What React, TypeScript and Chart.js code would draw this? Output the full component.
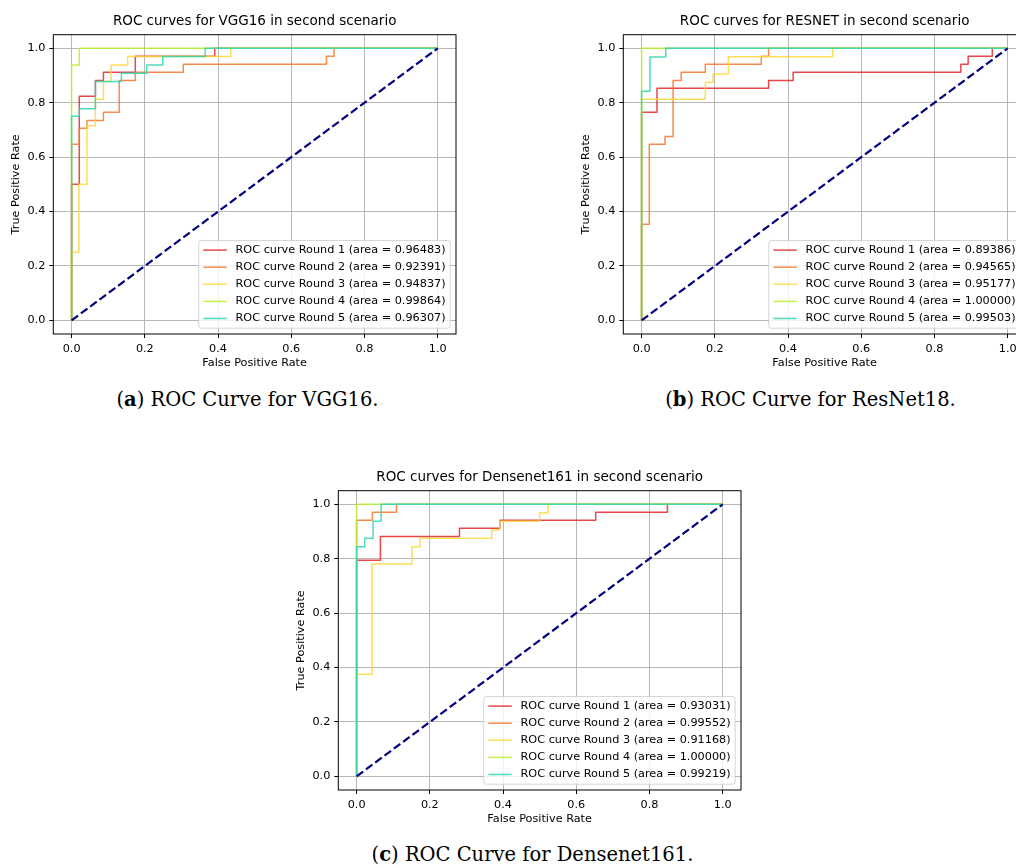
import React, { useEffect, useRef } from 'react';
import { Chart, registerables } from 'chart.js';

Chart.register(...registerables);

const FONT = '"DejaVu Sans", sans-serif';
const TICKS = [0, 0.2, 0.4, 0.6, 0.8, 1.0];
const ROUND_NAMES = ['Round 1', 'Round 2', 'Round 3', 'Round 4', 'Round 5'];
const ROUND_COLORS = [
  'rgba(230,40,40,0.85)',
  'rgba(245,120,45,0.85)',
  'rgba(253,215,60,0.85)',
  'rgba(185,240,45,0.85)',
  'rgba(45,215,175,0.85)',
];
const DIAG_X = [0, 1];
const DIAG_Y = [0, 1];

// ---- VGG16 ----
const VGG_TITLE = 'ROC curves for VGG16 in second scenario';
const VGG_CAPTION = 'ROC Curve for VGG16.';
const VGG_AUC = ['0.96483', '0.92391', '0.94837', '0.99864', '0.96307'];
const VGG_R1_FPR = [0, 0, 0.021, 0.021, 0.065, 0.065, 0.087, 0.087, 0.174, 0.174, 0.391, 0.391, 1];
const VGG_R1_TPR = [0, 0.5, 0.5, 0.824, 0.824, 0.882, 0.882, 0.912, 0.912, 0.971, 0.971, 1, 1];
const VGG_R2_FPR = [0, 0, 0.021, 0.021, 0.042, 0.042, 0.087, 0.087, 0.13, 0.13, 0.174, 0.174, 0.305, 0.305, 0.696, 0.696, 0.717, 0.717, 1];
const VGG_R2_TPR = [0, 0.647, 0.647, 0.706, 0.706, 0.735, 0.735, 0.765, 0.765, 0.882, 0.882, 0.912, 0.912, 0.941, 0.941, 0.971, 0.971, 1, 1];
const VGG_R3_FPR = [0, 0, 0.02, 0.02, 0.042, 0.042, 0.065, 0.065, 0.087, 0.087, 0.108, 0.108, 0.153, 0.153, 0.435, 0.435, 1];
const VGG_R3_TPR = [0, 0.25, 0.25, 0.5, 0.5, 0.715, 0.715, 0.813, 0.813, 0.878, 0.878, 0.939, 0.939, 0.97, 0.97, 1, 1];
const VGG_R4_FPR = [0, 0, 0.021, 0.021, 1];
const VGG_R4_TPR = [0, 0.939, 0.939, 1, 1];
const VGG_R5_FPR = [0, 0, 0.021, 0.021, 0.065, 0.065, 0.136, 0.136, 0.205, 0.205, 0.249, 0.249, 0.365, 0.365, 1];
const VGG_R5_TPR = [0, 0.75, 0.75, 0.778, 0.778, 0.878, 0.878, 0.908, 0.908, 0.939, 0.939, 0.97, 0.97, 1, 1];

// ---- RESNET ----
const RES_TITLE = 'ROC curves for RESNET in second scenario';
const RES_CAPTION = 'ROC Curve for ResNet18.';
const RES_AUC = ['0.89386', '0.94565', '0.95177', '1.00000', '0.99503'];
const RES_R1_FPR = [0, 0, 0.042, 0.042, 0.347, 0.347, 0.414, 0.414, 0.872, 0.872, 0.892, 0.892, 0.958, 0.958, 1];
const RES_R1_TPR = [0, 0.765, 0.765, 0.853, 0.853, 0.882, 0.882, 0.912, 0.912, 0.941, 0.941, 0.971, 0.971, 1, 1];
const RES_R2_FPR = [0, 0, 0.021, 0.021, 0.064, 0.064, 0.086, 0.086, 0.108, 0.108, 0.174, 0.174, 0.327, 0.327, 0.347, 0.347, 1];
const RES_R2_TPR = [0, 0.353, 0.353, 0.647, 0.647, 0.676, 0.676, 0.882, 0.882, 0.912, 0.912, 0.941, 0.941, 0.971, 0.971, 1, 1];
const RES_R3_FPR = [0, 0, 0.174, 0.174, 0.195, 0.195, 0.237, 0.237, 0.522, 0.522, 1];
const RES_R3_TPR = [0, 0.813, 0.813, 0.875, 0.875, 0.906, 0.906, 0.969, 0.969, 1, 1];
const RES_R4_FPR = [0, 0, 1];
const RES_R4_TPR = [0, 1, 1];
const RES_R5_FPR = [0, 0, 0.023, 0.023, 0.066, 0.066, 1];
const RES_R5_TPR = [0, 0.842, 0.842, 0.968, 0.968, 1, 1];

// ---- DENSENET161 ----
const DEN_TITLE = 'ROC curves for Densenet161 in second scenario';
const DEN_CAPTION = 'ROC Curve for Densenet161.';
const DEN_AUC = ['0.93031', '0.99552', '0.91168', '1.00000', '0.99219'];
const DEN_R1_FPR = [0, 0, 0.065, 0.065, 0.281, 0.281, 0.391, 0.391, 0.653, 0.653, 0.849, 0.849, 1];
const DEN_R1_TPR = [0, 0.794, 0.794, 0.882, 0.882, 0.912, 0.912, 0.941, 0.941, 0.971, 0.971, 1, 1];
const DEN_R2_FPR = [0, 0, 0.043, 0.043, 0.109, 0.109, 1];
const DEN_R2_TPR = [0, 0.941, 0.941, 0.971, 0.971, 1, 1];
const DEN_R3_FPR = [0, 0, 0.042, 0.042, 0.151, 0.151, 0.173, 0.173, 0.369, 0.369, 0.391, 0.391, 0.5, 0.5, 0.523, 0.523, 1];
const DEN_R3_TPR = [0, 0.375, 0.375, 0.781, 0.781, 0.844, 0.844, 0.875, 0.875, 0.906, 0.906, 0.938, 0.938, 0.969, 0.969, 1, 1];
const DEN_R4_FPR = [0, 0, 1];
const DEN_R4_TPR = [0, 1, 1];
const DEN_R5_FPR = [0, 0, 0.022, 0.022, 0.045, 0.045, 0.067, 0.067, 1];
const DEN_R5_TPR = [0, 0.844, 0.844, 0.875, 0.875, 0.938, 0.938, 1, 1];

type PanelDef = {
  title: string;
  fpr: number[][];
  tpr: number[][];
  auc: string[];
  left: number;
  top: number;
};

const PANELS: PanelDef[] = [
  { title: VGG_TITLE, fpr: [VGG_R1_FPR, VGG_R2_FPR, VGG_R3_FPR, VGG_R4_FPR, VGG_R5_FPR], tpr: [VGG_R1_TPR, VGG_R2_TPR, VGG_R3_TPR, VGG_R4_TPR, VGG_R5_TPR], auc: VGG_AUC, left: 0, top: 0 },
  { title: RES_TITLE, fpr: [RES_R1_FPR, RES_R2_FPR, RES_R3_FPR, RES_R4_FPR, RES_R5_FPR], tpr: [RES_R1_TPR, RES_R2_TPR, RES_R3_TPR, RES_R4_TPR, RES_R5_TPR], auc: RES_AUC, left: 570, top: 0 },
  { title: DEN_TITLE, fpr: [DEN_R1_FPR, DEN_R2_FPR, DEN_R3_FPR, DEN_R4_FPR, DEN_R5_FPR], tpr: [DEN_R1_TPR, DEN_R2_TPR, DEN_R3_TPR, DEN_R4_TPR, DEN_R5_TPR], auc: DEN_AUC, left: 285, top: 456 },
];

const CANVAS_W = 470;
const CANVAS_H = 380;
const SMALL = 11.25;

function Panel({ def }: { def: PanelDef }) {
  const ref = useRef<HTMLCanvasElement | null>(null);
  useEffect(() => {
    const canvas = ref.current;
    if (!canvas) return;
    const labels = def.auc.map((a, i) => `ROC curve ${ROUND_NAMES[i]} (area = ${a})`);

    const datasets: any[] = def.fpr.map((xs, i) => ({
      label: labels[i],
      data: xs.map((x, j) => ({ x, y: def.tpr[i][j] })),
      showLine: true,
      borderColor: ROUND_COLORS[i],
      backgroundColor: ROUND_COLORS[i],
      borderWidth: 1.5,
      pointRadius: 0,
      pointHoverRadius: 0,
      fill: false,
      tension: 0,
      borderJoinStyle: 'round',
      borderCapStyle: 'butt',
      order: 5 - i,
    }));
    datasets.push({
      label: 'diag',
      data: DIAG_X.map((x, j) => ({ x, y: DIAG_Y[j] })),
      showLine: true,
      borderColor: '#000080',
      backgroundColor: '#000080',
      borderWidth: 2.2,
      borderDash: [8.1, 3.5],
      pointRadius: 0,
      pointHoverRadius: 0,
      fill: false,
      tension: 0,
      order: 0,
    });

    const framePlugin = {
      id: 'frame',
      afterDatasetsDraw(chart: any) {
        const { ctx, chartArea } = chart;
        ctx.save();
        ctx.strokeStyle = '#000';
        ctx.lineWidth = 1;
        ctx.strokeRect(chartArea.left, chartArea.top, chartArea.right - chartArea.left, chartArea.bottom - chartArea.top);
        ctx.restore();
      },
    };

    const legendPlugin = {
      id: 'rocLegend',
      afterDraw(chart: any) {
        const { ctx, chartArea } = chart;
        ctx.save();
        ctx.font = `${SMALL}px ${FONT}`;
        const tw = Math.max(...labels.map((t) => ctx.measureText(t).width));
        const w = 36.8 + tw + 4.6;
        const h = 87.7;
        const x = chartArea.right - 5.8 - w;
        const y = chartArea.bottom - 5.8 - h;
        const r = 2.5;
        ctx.beginPath();
        ctx.moveTo(x + r, y);
        ctx.lineTo(x + w - r, y);
        ctx.arcTo(x + w, y, x + w, y + r, r);
        ctx.lineTo(x + w, y + h - r);
        ctx.arcTo(x + w, y + h, x + w - r, y + h, r);
        ctx.lineTo(x + r, y + h);
        ctx.arcTo(x, y + h, x, y + h - r, r);
        ctx.lineTo(x, y + r);
        ctx.arcTo(x, y, x + r, y, r);
        ctx.closePath();
        ctx.fillStyle = 'rgba(255,255,255,0.8)';
        ctx.fill();
        ctx.strokeStyle = 'rgba(204,204,204,0.8)';
        ctx.lineWidth = 1;
        ctx.stroke();
        labels.forEach((t, i) => {
          const cy = y + 9.6 + i * 17.1;
          ctx.beginPath();
          ctx.moveTo(x + 4.6, cy);
          ctx.lineTo(x + 28, cy);
          ctx.strokeStyle = ROUND_COLORS[i];
          ctx.lineWidth = 1.5;
          ctx.stroke();
          ctx.fillStyle = '#000';
          ctx.textBaseline = 'middle';
          ctx.textAlign = 'left';
          ctx.fillText(t, x + 36.8, cy);
        });
        ctx.restore();
      },
    };

    const setTicks = (scale: any) => {
      scale.ticks = TICKS.map((v) => ({ value: v }));
    };
    const tickOpts = {
      color: '#000',
      font: { family: FONT, size: SMALL },
      padding: 4,
      callback: (v: any) => Number(v).toFixed(1),
      autoSkip: false,
      maxRotation: 0,
      minRotation: 0,
    };
    const gridOpts = {
      color: '#b0b0b0',
      lineWidth: 0.9,
      drawTicks: true,
      tickLength: 4,
      tickColor: '#000',
      tickWidth: 1,
    };

    const chart = new Chart(canvas, {
      type: 'scatter',
      data: { datasets },
      options: {
        responsive: false,
        maintainAspectRatio: false,
        animation: false,
        devicePixelRatio: 1,
        events: [],
        layout: { padding: { left: 0, right: 14, top: 0, bottom: 0 } },
        plugins: {
          legend: { display: false },
          tooltip: { enabled: false },
          title: {
            display: true,
            text: def.title,
            fullSize: false,
            color: '#000',
            font: { family: FONT, size: 13.5, weight: 'normal', lineHeight: 1.2 },
            padding: { top: 13.4, bottom: 5.1 },
          },
        },
        scales: {
          x: {
            type: 'linear',
            min: -0.05,
            max: 1.05,
            afterBuildTicks: setTicks,
            afterFit: (s: any) => {
              s.height = 46;
            },
            ticks: tickOpts,
            grid: gridOpts,
            border: { display: false },
            title: {
              display: true,
              text: 'False Positive Rate',
              color: '#000',
              font: { family: FONT, size: SMALL, lineHeight: 1.2 },
              padding: { top: 0, bottom: 10.6 },
            },
          },
          y: {
            type: 'linear',
            min: -0.05,
            max: 1.05,
            afterBuildTicks: setTicks,
            afterFit: (s: any) => {
              s.width = 53.3;
            },
            ticks: tickOpts,
            grid: gridOpts,
            border: { display: false },
            title: {
              display: true,
              text: 'True Positive Rate',
              color: '#000',
              font: { family: FONT, size: SMALL, lineHeight: 1.2 },
              padding: { top: 9.3, bottom: 0 },
            },
          },
        },
      } as any,
      plugins: [framePlugin, legendPlugin],
    });
    return () => chart.destroy();
  }, [def]);

  return (
    <canvas
      ref={ref}
      width={CANVAS_W}
      height={CANVAS_H}
      style={{ position: 'absolute', left: def.left, top: def.top, width: CANVAS_W, height: CANVAS_H, display: 'block' }}
    />
  );
}

const CAPTIONS = [
  { tag: 'a', text: VGG_CAPTION, cx: 247.5, top: 390.3 },
  { tag: 'b', text: RES_CAPTION, cx: 810.5, top: 390.3 },
  { tag: 'c', text: DEN_CAPTION, cx: 532.5, top: 844.8 },
];

export default function App() {
  return (
    <div
      style={{
        position: 'absolute',
        left: 0,
        top: 0,
        width: 1016,
        height: 868,
        overflow: 'hidden',
        background: '#fff',
      }}
    >
      {PANELS.map((p, i) => (
        <Panel key={i} def={p} />
      ))}
      {CAPTIONS.map((c) => (
        <div
          key={c.tag}
          style={{
            position: 'absolute',
            left: c.cx - 250,
            top: c.top,
            width: 500,
            textAlign: 'center',
            fontFamily: '"DejaVu Serif", serif',
            fontSize: 19.5,
            lineHeight: '20px',
            color: '#000',
            whiteSpace: 'nowrap',
          }}
        >
          (<b>{c.tag}</b>) {c.text}
        </div>
      ))}
    </div>
  );
}
